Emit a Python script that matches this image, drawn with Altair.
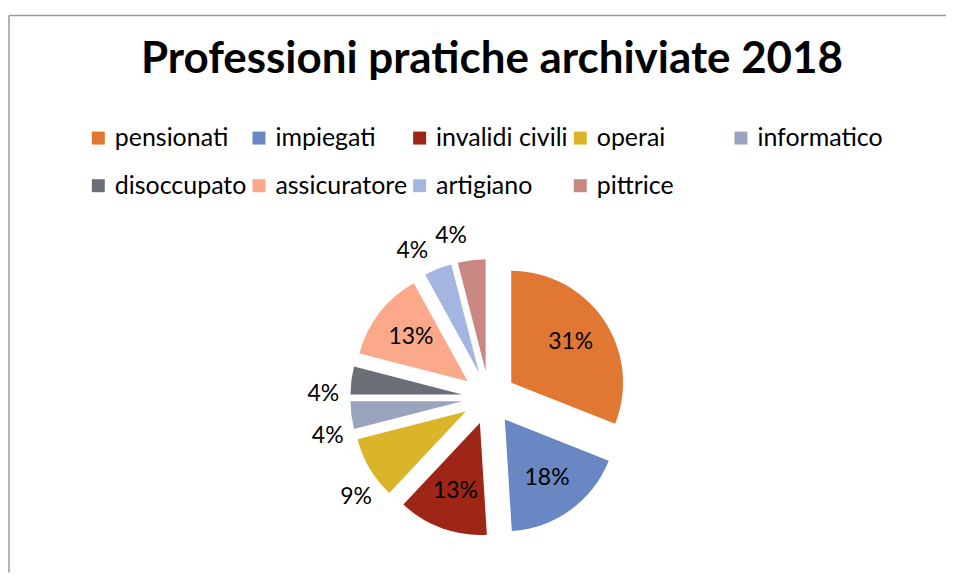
import math
import altair as alt
import pandas as pd

# ---- data ----
categorie = ["pensionati", "impiegati", "invalidi civili", "operai", "informatico",
             "disoccupato", "assicuratore", "artigiano", "pittrice"]
percentuali = [31, 18, 13, 9, 4, 4, 13, 4, 4]
colori = ["#E07733", "#6987C2", "#9E2616", "#DAB52A", "#9AA4BF",
          "#696E77", "#FBA98A", "#A3B5E0", "#C98782"]
titolo = "Professioni pratiche archiviate 2018"

# ---- layout constants ----
W, H = 939, 558          # plot area (framed box)
CX, CY = 481, 383        # pie centre inside the box
R = 112                  # pie radius
EXPLODE = 27             # slice explosion
FONT = "Lato"

df = pd.DataFrame({
    "categoria": categorie,
    "percentuale": percentuali,
    "ordine": list(range(len(categorie))),
})

xs = alt.Scale(domain=[0, W], nice=False, zero=False)
ys = alt.Scale(domain=[0, H], nice=False, zero=False, reverse=True)

base = alt.Chart(df).transform_window(
    cum="sum(percentuale)", sort=[alt.SortField("ordine")]
).transform_calculate(
    start="datum.cum - datum.percentuale",
    mid="(datum.cum - datum.percentuale / 2) / 100 * 2 * PI",
    ex=f"{CX} + {EXPLODE} * sin(datum.mid)",
    ey=f"{CY} - {EXPLODE} * cos(datum.mid)",
    etichetta="datum.percentuale + '%'",
    interno="datum.percentuale >= 10",
    lr=f"datum.interno ? {EXPLODE + 72} : {EXPLODE + 139}",
    la="datum.interno ? datum.mid : datum.mid - 6 * PI / 180",
    lx=f"{CX} + datum.lr * sin(datum.la)",
    ly=f"{CY} - datum.lr * cos(datum.la)",
)

arcs = base.mark_arc(outerRadius=R).encode(
    x=alt.X("ex:Q", scale=xs, axis=None),
    y=alt.Y("ey:Q", scale=ys, axis=None),
    theta=alt.Theta("start:Q", scale=alt.Scale(domain=[0, 100], range=[0, 2 * math.pi]), stack=False),
    theta2="cum:Q",
    color=alt.Color(
        "categoria:N",
        scale=alt.Scale(domain=categorie, range=colori),
        sort=categorie,
        legend=alt.Legend(
            title=None, orient="none", legendX=77, legendY=110,
            direction="horizontal", columns=5, gridAlign="all",
            symbolType="square", symbolSize=169, symbolStrokeWidth=0,
            labelFont=FONT, labelFontSize=25, labelColor="#000000",
            labelOffset=4, labelLimit=400, columnPadding=0, rowPadding=22,
            padding=0,
        ),
    ),
)

labels = base.mark_text(font=FONT, fontSize=23, color="#000000",
                        align="center", baseline="middle").encode(
    x=alt.X("lx:Q", scale=xs, axis=None),
    y=alt.Y("ly:Q", scale=ys, axis=None),
    text="etichetta:N",
)

one = pd.DataFrame({"t": [titolo]})
title_mark = alt.Chart(one).mark_text(
    font=FONT, fontSize=44, fontWeight="bold", color="#000000",
    align="center", baseline="alphabetic",
).encode(x=alt.value(484), y=alt.value(58), text="t:N")

# chart-area frame: only the left and top edges are visible in the reference
frame_left = alt.Chart(one).mark_rule(color="#999999", strokeWidth=1.5).encode(
    x=alt.value(0))
frame_top = alt.Chart(one).mark_rule(color="#999999", strokeWidth=1.5).encode(
    y=alt.value(0))

chart = alt.layer(frame_left, frame_top, title_mark, arcs, labels).properties(
    width=W, height=H,
    padding={"left": 0, "top": 6, "right": 0, "bottom": 0},
).configure_view(stroke=None)

chart.save("out.html", embed_options={"renderer": "svg", "actions": False})
